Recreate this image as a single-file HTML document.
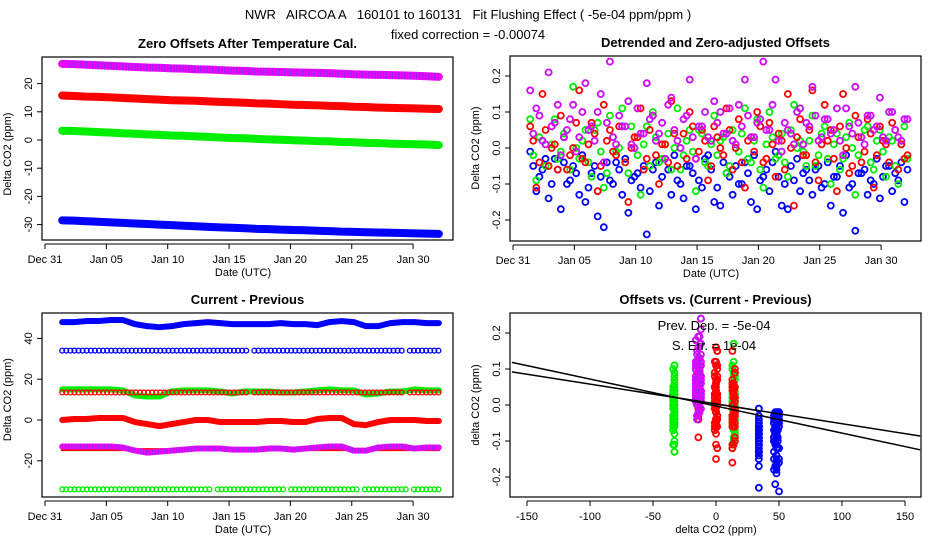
<!DOCTYPE html>
<html><head><meta charset="utf-8">
<style>
html,body{margin:0;padding:0;background:#fff;}
svg{display:block;font-family:"Liberation Sans",Arial,sans-serif;}
</style></head>
<body>
<svg id="chart" width="936" height="540" viewBox="0 0 936 540">
<rect x="0" y="0" width="936" height="540" fill="#fff"/>
<text x="468" y="19" text-anchor="middle" font-size="13" xml:space="preserve">NWR   AIRCOA A   160101 to 160131   Fit Flushing Effect ( -5e-04 ppm/ppm )</text>
<text x="468" y="39" text-anchor="middle" font-size="13">fixed correction = -0.00074</text>
<g id="p1"></g>
<g id="p2"></g>
<g id="p3"></g>
<g id="p4"></g>
</svg>
<script>
// ---------- data ----------
const dateTicks = [0,5,10,15,20,25,30];
const dateTickLabels = ["Dec 31","Jan 05","Jan 10","Jan 15","Jan 20","Jan 25","Jan 30"];
// Panel 1: daily zero offsets (ppm)
const p1Purple = [27.0,26.9,26.7,26.5,26.3,26.1,25.9,25.7,25.6,25.4,25.3,25.1,25.0,24.8,24.6,24.5,24.3,24.2,24.1,24.0,23.9,23.8,23.7,23.5,23.3,23.2,23.1,23.0,22.9,22.8,22.6,22.4];
const p1Red    = [15.8,15.6,15.4,15.3,15.1,14.9,14.7,14.5,14.3,14.1,14.0,13.9,13.7,13.5,13.4,13.2,13.0,12.9,12.7,12.5,12.4,12.3,12.1,12.0,11.8,11.7,11.5,11.4,11.3,11.2,11.1,11.0];
const p1Green  = [3.3,3.2,3.0,2.8,2.6,2.4,2.2,2.0,1.8,1.6,1.5,1.3,1.1,0.9,0.7,0.6,0.4,0.2,0.1,-0.1,-0.2,-0.4,-0.5,-0.7,-0.8,-1.0,-1.1,-1.3,-1.4,-1.5,-1.6,-1.8];
const p1Blue   = [-28.5,-28.6,-28.8,-29.0,-29.2,-29.4,-29.6,-29.8,-30.0,-30.2,-30.4,-30.6,-30.8,-31.0,-31.1,-31.3,-31.5,-31.6,-31.8,-31.9,-32.0,-32.2,-32.3,-32.5,-32.6,-32.7,-32.8,-32.9,-33.0,-33.1,-33.2,-33.3];
const p1Ticks = [-30,-20,-10,0,10,20];
// Panel 2: detrended offsets (ppm), set A (twice daily) and set B (offset by 0.25 day)
const p2Purple = [0.16,0.11,0.02,0.21,0.07,-0.02,0.05,0.12,0.03,0.18,0.06,0.10,-0.04,0.24,0.01,0.06,0.13,0.00,0.04,0.18,0.09,0.04,-0.03,0.14,0.02,0.08,0.19,-0.03,0.06,0.03,0.13,0.10,0.04,0.02,0.12,0.19,0.03,0.07,0.24,0.05,0.19,-0.01,0.05,0.01,0.11,0.07,0.17,0.02,0.08,0.04,0.11,-0.02,0.06,0.17,0.03,0.09,0.05,0.14,0.02,0.10,0.03,0.08];
const p2Red = [0.06,-0.11,0.15,-0.05,0.01,0.09,-0.06,0.00,0.16,-0.04,0.07,-0.12,0.12,0.05,-0.02,0.06,-0.15,0.03,0.11,-0.03,0.09,-0.10,0.01,0.13,-0.05,0.04,0.10,-0.03,0.05,-0.09,0.06,0.00,0.11,-0.06,0.08,-0.11,0.03,0.10,-0.04,0.07,-0.08,0.02,0.15,-0.16,0.08,-0.02,0.16,-0.09,0.12,0.05,-0.12,0.15,-0.07,0.09,-0.04,0.08,-0.11,0.06,0.01,0.07,-0.06,-0.03];
const p2Green = [0.08,-0.09,0.02,-0.05,0.08,-0.01,-0.06,0.17,-0.03,0.05,-0.08,0.07,-0.11,0.09,-0.01,0.11,-0.07,0.03,-0.13,0.06,0.10,-0.04,0.01,-0.06,0.11,-0.02,0.05,-0.12,0.04,-0.05,0.09,0.02,-0.07,0.05,-0.01,0.11,-0.04,0.08,-0.11,0.10,-0.03,0.04,-0.08,0.12,0.02,-0.05,0.09,-0.02,0.06,-0.10,0.04,-0.03,0.07,-0.13,0.03,0.06,-0.06,0.05,-0.08,0.02,-0.10,0.06];
const p2Blue = [-0.01,-0.12,-0.06,-0.14,-0.03,-0.17,-0.10,-0.05,-0.13,-0.15,-0.07,-0.19,-0.22,-0.09,-0.04,-0.13,-0.18,-0.08,-0.11,-0.24,-0.06,-0.16,-0.03,-0.13,-0.09,-0.14,-0.05,-0.17,-0.11,-0.02,-0.15,-0.16,-0.07,-0.13,-0.10,-0.04,-0.15,-0.17,-0.08,-0.12,-0.01,-0.16,-0.17,-0.09,-0.12,-0.06,-0.13,-0.05,-0.10,-0.16,-0.08,-0.18,-0.11,-0.23,-0.07,-0.13,-0.10,-0.14,-0.05,-0.12,-0.09,-0.15];
const p2PurpleB = [0.04,0.09,0.01,0.06,0.12,0.03,0.08,-0.01,0.10,0.05,0.02,0.15,0.07,0.03,0.09,0.06,0.01,0.11,0.04,0.08,0.02,0.07,0.12,0.05,0.00,0.09,0.03,0.06,0.10,0.02,0.07,0.04,0.11,0.01,0.06,0.09,0.03,0.08,0.05,0.12,0.02,0.07,0.04,0.10,0.01,0.06,0.09,0.03,0.08,0.05,0.02,0.11,0.04,0.07,0.01,0.09,0.06,0.03,0.10,0.05,0.02,0.08];
const p2RedB = [0.02,-0.04,0.05,0.00,-0.06,0.03,-0.02,0.07,-0.03,0.01,0.04,-0.05,0.02,-0.01,0.06,-0.04,0.00,0.03,-0.06,0.05,-0.02,0.01,-0.04,0.04,0.00,-0.03,0.06,-0.01,0.02,-0.05,0.03,-0.02,0.05,0.00,-0.04,0.02,-0.01,0.06,-0.03,0.01,0.04,-0.06,0.00,0.03,-0.02,0.05,-0.04,0.01,0.02,-0.03,0.06,0.00,-0.05,0.03,-0.01,0.04,-0.02,0.02,-0.04,0.05,0.01,-0.02];
const p2GreenB = [-0.02,0.03,-0.05,0.01,-0.03,0.04,-0.06,0.00,0.02,-0.04,0.05,-0.01,-0.07,0.03,0.00,-0.04,0.06,-0.02,0.01,-0.05,0.03,-0.03,0.04,0.00,-0.06,0.02,-0.01,0.05,-0.04,0.01,-0.02,0.03,-0.05,0.00,0.04,-0.03,0.02,-0.06,0.01,0.03,-0.02,-0.04,0.05,0.00,-0.01,0.02,-0.05,0.04,-0.03,0.01,-0.06,0.03,0.00,-0.02,0.05,-0.04,0.02,-0.01,0.03,-0.05,0.01,-0.03];
const p2BlueB = [-0.05,-0.08,-0.03,-0.10,-0.06,-0.04,-0.09,-0.07,-0.02,-0.11,-0.05,-0.08,-0.04,-0.10,-0.06,-0.03,-0.09,-0.07,-0.05,-0.12,-0.04,-0.08,-0.06,-0.02,-0.10,-0.05,-0.07,-0.09,-0.03,-0.06,-0.11,-0.04,-0.08,-0.05,-0.10,-0.07,-0.02,-0.09,-0.06,-0.04,-0.08,-0.10,-0.05,-0.03,-0.07,-0.09,-0.06,-0.11,-0.04,-0.08,-0.05,-0.02,-0.10,-0.07,-0.06,-0.09,-0.03,-0.08,-0.05,-0.07,-0.04,-0.06];
const p2Ticks = [-0.2,-0.1,0.0,0.1,0.2];
const p2TickLabels = ["-0.2","-0.1","0.0","0.1","0.2"];
// Panel 3: current - previous (ppm), daily
const p3Blue48 = [48,48,48.5,48.5,49,49,47,46,45.5,46,47,47.5,48,47.5,47,47,47,47,47.5,47,47,46.5,48,48.5,48,46,46,47.5,48,48,47.5,47.5];
const p3Blue34 = [34,34,34,34,34,34,34,34,34,34,34,34,34,34,34,34,34,34,34,34,34,34,34,34,34,34,34,34,34,34,34,34];
const p3Green14 = [15,15,15,15,15,14.5,12,11.5,11.5,14,14.5,14.5,14.5,14,13,14,14,14,13.5,13.5,14,14.5,15,14.5,14.5,12.5,13,14,14,15,14.5,14.5];
const p3Red14 = [13.5,13.5,13.5,13.5,13.5,13.5,13.5,13.5,13.5,13.5,13.5,13.5,13.5,13.5,13.5,13.5,13.5,13.5,13.5,13.5,13.5,13.5,13.5,13.5,13.5,13.5,13.5,13.5,13.5,13.5,13.5,13.5];
const p3Red0 = [0,0.5,0.5,1,1,1,-1,-2,-3,-2,-1,0,0,-1,-1,-1,-1,-0.5,-0.5,-1,-1,0.5,1,1,-2,-2.5,-1,0,0,0,-0.5,-0.5];
const p3Purple = [-13,-13,-13,-13,-13,-13.5,-15,-16,-15.5,-15,-14.5,-14,-14,-14,-14.5,-14.5,-14.5,-14,-14,-14.5,-14,-13.5,-13,-13,-15,-15,-13.5,-13,-13,-14,-13.5,-13.5];
const p3Red14n = [-14.5,-14.5,-14.5,-14.5,-14.5,-14.5,-14.5,-14.5,-14.5,-14.5,-14.5,-14.5,-14.5,-14.5,-14.5,-14.5,-14.5,-14.5,-14.5,-14.5,-14.5,-14.5,-14.5,-14.5,-14.5,-14.5,-14.5,-14.5,-14.5,-14.5,-14.5,-14.5];
const p3Green34 = [-34,-34,-34,-34,-34,-34,-34,-34,-34,-34,-34,-34,-34,-34,-34,-34,-34,-34,-34,-34,-34,-34,-34,-34,-34,-34,-34,-34,-34,-34,-34,-34];
const p3Ticks = [-20,0,20,40];
// Panel 4: x level assignment (ppm) & fit lines
const p4BlueLevels = [34,48,47,34,49,34,46,48,34,50];
const p4GreenLevels = [-33,14,-34,13,15,-33];
const p4RedLevels = [0,14,1,13,-1,15,0,-14];
const p4PurpleLevels = [-14,-13,-15,-12,-16];
const fitSlopes = [-0.00075,-0.00055];
const fitIntercepts = [-0.003,0.003];
const p4XTicks = [-150,-100,-50,0,50,100,150];
const p4YTicks = [-0.2,-0.1,0.0,0.1,0.2];
const p4YTickLabels = ["-0.2","-0.1","0.0","0.1","0.2"];

// ---------- helpers ----------
const NS = "http://www.w3.org/2000/svg";
function mk(parent, tag, attrs, txt){
  const e = document.createElementNS(NS, tag);
  for (const k in attrs) e.setAttribute(k, attrs[k]);
  if (txt !== undefined) e.textContent = txt;
  parent.appendChild(e);
  return e;
}
const COL = {purple:"#a020f0", magenta:"#ff00ff", red:"#ff0000", green:"#00ee00", blue:"#0000ff"};

function frame(g, L, T, R, B, title, name){
  let e = mk(g,"rect",{x:L,y:T,width:R-L,height:B-T,fill:"none",stroke:"#000","stroke-width":1.2});
  
  
  e = mk(g,"text",{x:(L+R)/2,y:T-9,"text-anchor":"middle","font-size":13,"font-weight":"bold"},title);
  
  
}
function yAxis(g, L, ticks, labels, ys, label, name){
  const y0 = ys(ticks[0]), y1 = ys(ticks[ticks.length-1]);
  let e = mk(g,"line",{x1:L,x2:L,y1:y0,y2:y1,stroke:"#000"});
  
  
  ticks.forEach((t,i)=>{
    const y = ys(t);
    let a = mk(g,"line",{x1:L-5,x2:L,y1:y,y2:y,stroke:"#000"});
    
    
    let b = mk(g,"text",{x:0,y:0,"font-size":11,"text-anchor":"middle",transform:`translate(${L-10},${y}) rotate(-90)`},labels[i]);
    
    
  });
  const mid = (ys(ticks[0])+ys(ticks[ticks.length-1]))/2;
  e = mk(g,"text",{x:0,y:0,"font-size":11,"text-anchor":"middle",transform:`translate(${L-31},${mid}) rotate(-90)`},label);
  
  
}
function xAxis(g, B, ticks, labels, xs, label, name){
  const y = B+4;
  let e = mk(g,"line",{x1:xs(ticks[0]),x2:xs(ticks[ticks.length-1]),y1:y,y2:y,stroke:"#000"});
  
  
  ticks.forEach((t,i)=>{
    const x = xs(t);
    let a = mk(g,"line",{x1:x,x2:x,y1:y,y2:y+5,stroke:"#000"});
    
    
    let b = mk(g,"text",{x:x,y:y+19,"font-size":11,"text-anchor":"middle"},labels[i]);
    
    
  });
  e = mk(g,"text",{x:(xs(ticks[0])+xs(ticks[ticks.length-1]))/2+(name==='p4'?0:14),y:y+32,"font-size":11,"text-anchor":"middle"},label);
  
  
}
function band(g, arr, xs, ys, color, w, name, dash){
  const pts = arr.map((v,i)=>`${xs(1.4+i*(30.7/(arr.length-1)))},${ys(v)}`).join(" ");
  let e = mk(g,"polyline",{points:pts,fill:"none",stroke:color,"stroke-width":w,"stroke-linecap":"round","stroke-linejoin":"round"});
  
  
  if (dash){
    let d = mk(g,"polyline",{points:pts,fill:"none",stroke:dash,"stroke-width":w-1,"stroke-dasharray":"1.5 1.5"});
    
    
  }
}
function circleRow(g, arr, xs, ys, color, name, gaps){
  for (let k=0;k<=92;k++){
    const d = 1.4 + k/3;
    if (gaps && gaps.some(gp=>d>gp[0]&&d<gp[1])) continue;
    const v = arr[Math.min(arr.length-1, Math.floor(k/3))];
    let c = mk(g,"circle",{cx:xs(d),cy:ys(v),r:2.4,fill:"none",stroke:color,"stroke-width":1.3});
    
    
  }
}
function ptCircle(g, cx, cy, col, nm, pfx){
  const c = mk(g,"circle",{cx:cx,cy:cy,r:3,fill:"none",stroke:col,"stroke-width":1.8});
  
  
  if (nm==="purple"){
    const d = mk(g,"circle",{cx:cx,cy:cy,r:3,fill:"none",stroke:COL.magenta,"stroke-width":1.8,"stroke-dasharray":"1.5 1.5"});
    
    
  }
}

// ---------- Panel 1 ----------
(function(){
  const g = document.getElementById("p1");
  const L=42,T=57,R=453,B=240;
  const xs = d => 45 + 12.27*d;
  const ys = v => 140 - 2.82*v;
  band(g,p1Purple,xs,ys,COL.magenta,8,"p1-series-purple",COL.purple);
  band(g,p1Red,xs,ys,COL.red,8,"p1-series-red");
  band(g,p1Green,xs,ys,COL.green,8,"p1-series-green");
  band(g,p1Blue,xs,ys,COL.blue,8,"p1-series-blue");
  frame(g,L,T,R,B,"Zero Offsets After Temperature Cal.","p1");
  yAxis(g,L,p1Ticks,p1Ticks.map(String),ys,"Delta CO2 (ppm)","p1");
  xAxis(g,B,dateTicks,dateTickLabels,xs,"Date (UTC)","p1");
})();

// ---------- Panel 2 ----------
(function(){
  const g = document.getElementById("p2");
  const L=510,T=56,R=921,B=241;
  const xs = d => 513 + 12.27*d;
  const ys = v => 148 - 360*v;
  const series = [[p2Blue,p2BlueB,COL.blue,"blue"],[p2Green,p2GreenB,COL.green,"green"],[p2Red,p2RedB,COL.red,"red"],[p2Purple,p2PurpleB,COL.purple,"purple"]];
  series.forEach(([arr,arrB,col,nm])=>{
    arrB.forEach((v,i)=>ptCircle(g,xs(1.65+i*0.5),ys(v),col,nm,'p2'));
    arr.forEach((v,i)=>ptCircle(g,xs(1.4+i*0.5),ys(v),col,nm,'p2'));
  });
  frame(g,L,T,R,B,"Detrended and Zero-adjusted Offsets","p2");
  yAxis(g,L,p2Ticks,p2TickLabels,ys,"Delta CO2 (ppm)","p2");
  xAxis(g,B,dateTicks,dateTickLabels,xs,"Date (UTC)","p2");
})();

// ---------- Panel 3 ----------
(function(){
  const g = document.getElementById("p3");
  const L=42,T=313,R=453,B=497;
  const xs = d => 45 + 12.27*d;
  const ys = v => 420 - 2.04*v;
  band(g,p3Blue48,xs,ys,COL.blue,6,"p3-series-blue-48");
  circleRow(g,p3Blue34,xs,ys,COL.blue,"p3-series-blue-34",[[16.6,17.0],[28.8,29.0],[29.2,29.6]]);
  band(g,p3Green14,xs,ys,COL.green,6,"p3-series-green-14");
  circleRow(g,p3Red14,xs,ys,COL.red,"p3-series-red-14",[[16.6,17.0],[29.2,29.6]]);
  band(g,p3Red0,xs,ys,COL.red,6,"p3-series-red-0");
  band(g,p3Red14n,xs,ys,COL.red,3,"p3-series-red-minus-14");
  band(g,p3Purple,xs,ys,COL.magenta,6,"p3-series-purple",COL.purple);
  circleRow(g,p3Green34,xs,ys,COL.green,"p3-series-green-minus-34",[[13.6,14.0],[19.6,20.0],[25.6,25.9],[29.6,29.9]]);
  frame(g,L,T,R,B,"Current - Previous","p3");
  yAxis(g,L,p3Ticks,p3Ticks.map(String),ys,"Delta CO2 (ppm)","p3");
  xAxis(g,B,dateTicks,dateTickLabels,xs,"Date (UTC)","p3");
})();

// ---------- Panel 4 ----------
(function(){
  const g = document.getElementById("p4");
  const L=510,T=313,R=921,B=497;
  const xs = v => 716 + 1.26*v;
  const ys = v => 405 - 360*v;
  const series = [[p2Green,p2GreenB,p4GreenLevels,COL.green,"green"],[p2Blue,p2BlueB,p4BlueLevels,COL.blue,"blue"],[p2Red,p2RedB,p4RedLevels,COL.red,"red"],[p2Purple,p2PurpleB,p4PurpleLevels,COL.purple,"purple"]];
  series.forEach(([arr,arrB,lv,col,nm])=>{
    arrB.forEach((v,i)=>ptCircle(g,xs(lv[(i+1)%lv.length]),ys(v),col,nm,'p4'));
    arr.forEach((v,i)=>ptCircle(g,xs(lv[i%lv.length]),ys(v),col,nm,'p4'));
  });
  fitSlopes.forEach((s,i)=>{
    const x0=-162, x1=162;
    const ln = mk(g,"line",{x1:xs(x0),y1:ys(fitIntercepts[i]+s*x0),x2:xs(x1),y2:ys(fitIntercepts[i]+s*x1),stroke:"#000","stroke-width":1.5});
    
    
  });
  let t1 = mk(g,"text",{x:714,y:330,"font-size":13,"text-anchor":"middle"},"Prev. Dep. =  -5e-04");
  
  
  let t2 = mk(g,"text",{x:714,y:350,"font-size":13,"text-anchor":"middle"},"S. Err. =  1e-04");
  
  
  frame(g,L,T,R,B,"Offsets vs. (Current - Previous)","p4");
  yAxis(g,L,p4YTicks,p4YTickLabels,ys,"delta CO2 (ppm)","p4");
  xAxis(g,B,p4XTicks,p4XTicks.map(String),xs,"delta CO2 (ppm)","p4");
})();
</script>
</body></html>
